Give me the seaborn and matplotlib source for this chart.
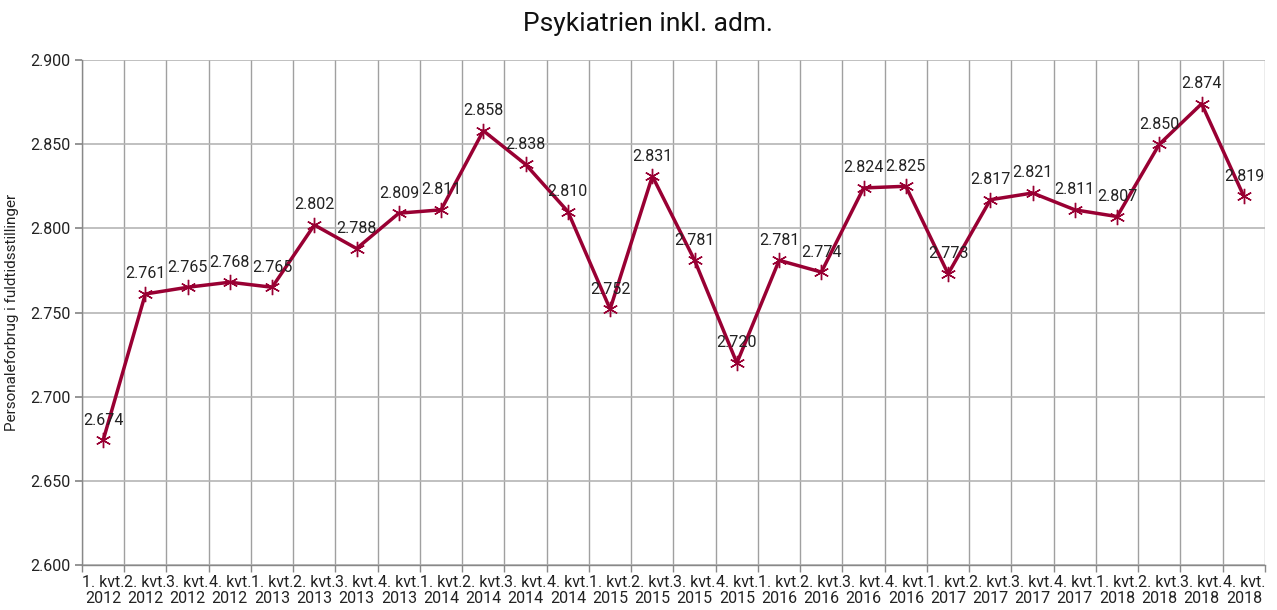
import matplotlib
matplotlib.use("Agg")
import matplotlib.pyplot as plt
import seaborn as sns
import numpy as np
import pandas as pd
from matplotlib.ticker import FuncFormatter, FixedLocator

quarters = ["1. kvt.", "2. kvt.", "3. kvt.", "4. kvt."]
years = [2012, 2013, 2014, 2015, 2016, 2017, 2018]
labels = [f"{q}\n{y}" for y in years for q in quarters]
values = [2674, 2761, 2765, 2768, 2765, 2802, 2788, 2809, 2811, 2858, 2838, 2810,
          2752, 2831, 2781, 2720, 2781, 2774, 2824, 2825, 2773, 2817, 2821, 2811,
          2807, 2850, 2874, 2819]
title = "Psykiatrien inkl. adm."
ylabel = "Personaleforbrug i fuldtidsstillinger"

df = pd.DataFrame({"pos": np.arange(len(values)), "val": values})

sns.set_theme(style="white")
plt.rcParams["font.family"] = ["Roboto", "DejaVu Sans"]

fig = plt.figure(figsize=(12.77, 6.10), dpi=100)
ax = fig.add_axes([0.0642, 0.0738, 0.9264, 0.8278])

color = "#990033"
sns.lineplot(data=df, x="pos", y="val", ax=ax, color=color, linewidth=2.5,
             marker=(6, 2, 0), markersize=11, markeredgewidth=1.0,
             markeredgecolor=color)

def fmt(v):
    return f"{v:,.0f}".replace(",", ".")

for x, v in zip(df["pos"], df["val"]):
    ax.annotate(fmt(v), (x, v), xytext=(0, 9), textcoords="offset points",
                ha="center", va="bottom", fontsize=11.5, color="#222222")

ax.set_xlim(-0.5, len(values) - 0.5)
ax.set_ylim(2600, 2900)
ax.set_yticks(np.arange(2600, 2901, 50))
ax.yaxis.set_major_formatter(FuncFormatter(lambda v, p: fmt(v)))
ax.set_xticks(np.arange(len(values)))
ax.set_xticklabels(labels, fontsize=11.5, color="#222222", linespacing=1.1)
ax.xaxis.set_minor_locator(FixedLocator(np.arange(-0.5, len(values), 1.0)))
ax.tick_params(axis="x", which="major", length=0, pad=7)
ax.tick_params(axis="x", which="minor", length=5, color="#888888", direction="out", bottom=True)
ax.tick_params(axis="y", which="major", length=5, color="#888888", direction="out", left=True,
               labelsize=11.5, labelcolor="#222222")

ax.grid(False)
ax.grid(axis="x", which="minor", color="#a0a0a0", linewidth=1)
ax.grid(axis="y", which="major", color="#b5b5b5", linewidth=1.2)
ax.set_axisbelow(True)
for s in ["top", "right"]:
    ax.spines[s].set_visible(False)
for s in ["left", "bottom"]:
    ax.spines[s].set_color("#888888")
    ax.spines[s].set_linewidth(1)

ax.set_xlabel("")
ax.set_ylabel(ylabel, fontsize=11, color="#222222")
ax.yaxis.set_label_coords(-0.053, 0.5)
fig.suptitle(title, fontsize=19, x=0.507, y=0.98, color="#111111")

fig.savefig("out.png", dpi=100)
